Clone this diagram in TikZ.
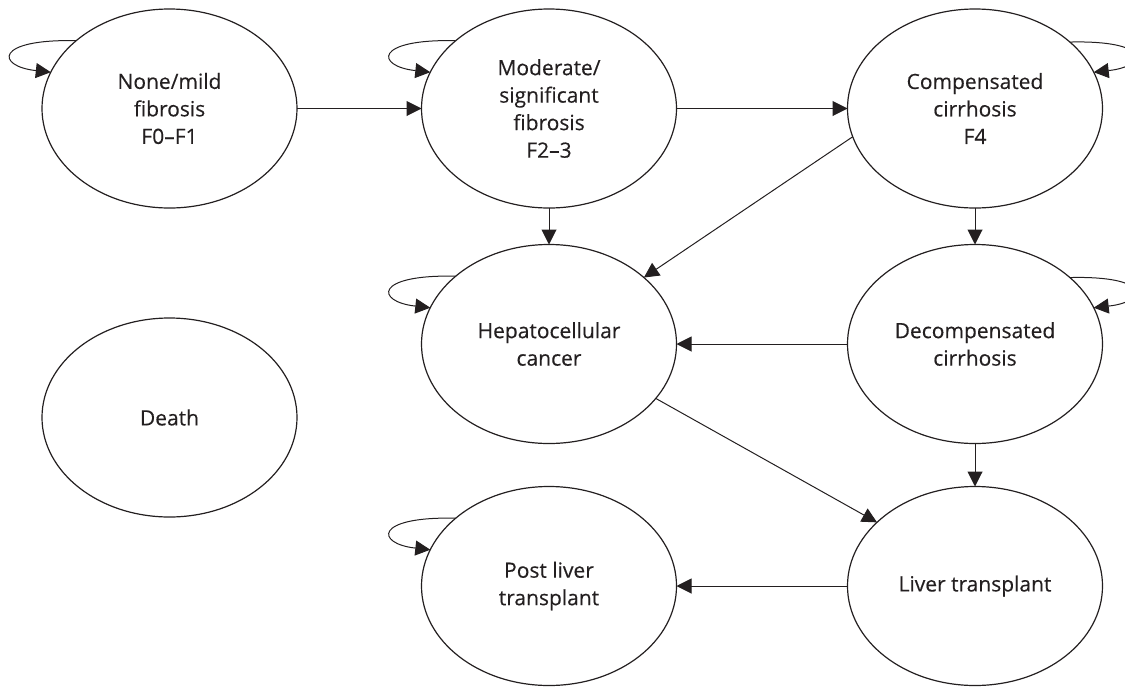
\documentclass[tikz,border=0pt]{standalone}
\usepackage{fontspec}
\setmainfont{Open Sans}
\newfontfamily\statefont{Open Sans}[FakeBold=0.3,Ligatures=TeX]
\usetikzlibrary{arrows.meta,shapes.geometric}
\definecolor{ink}{HTML}{231F20}
\begin{document}
\begin{tikzpicture}[x=1pt,y=-1pt,
  state/.style={draw=ink, line width=1.2pt, ellipse, minimum width=255pt, minimum height=199pt,
    inner sep=0pt, outer sep=0pt, align=center, text=ink,
    font=\statefont\fontsize{21}{27.5}\selectfont},
  conn/.style={draw=ink, line width=1pt, -{Triangle[length=15pt,width=15pt]}}]
\useasboundingbox (0,0) rectangle (1125,686);
\node[state] (none) at (169.5,108.5) {None/mild\\fibrosis\\F0–F1};
\node[state] (mod) at (549,108.5) {Moderate/\\significant\\fibrosis\\F2–3};
\node[state] (comp) at (975,108.5) {Compensated\\cirrhosis\\F4};
\node[state] (hcc) at (549,344) {Hepatocellular\\cancer};
\node[state] (dec) at (975,344) {Decompensated\\cirrhosis};
\node[state] (death) at (169.5,417.5) {Death};
\node[state] (post) at (549,586) {Post liver\\transplant};
\node[state] (lt) at (975,586) {Liver transplant};
% transitions
\draw[conn] (none.east) -- (mod.west);
\draw[conn] (mod.east) -- (comp.west);
\draw[conn] (mod.south) -- (hcc.north);
\draw[conn] (comp.south) -- (dec.north);
\draw[conn] (comp.193) -- (hcc.35.5);
\draw[conn] (dec.west) -- (hcc.east);
\draw[conn] (hcc.333.2) -- (lt.147.4);
\draw[conn] (dec.south) -- (lt.north);
\draw[conn] (lt.west) -- (post.east);
% self loops
\draw[conn] (none.144.9) .. controls +(-82,-2) and +(-55,-6) .. (none.163);
\draw[conn] (mod.144.9) .. controls +(-82,-2) and +(-55,-6) .. (mod.163);
\draw[conn] (hcc.144.9) .. controls +(-82,-2) and +(-55,-6) .. (hcc.163);
\draw[conn] (post.144.9) .. controls +(-82,-2) and +(-55,-6) .. (post.163);
\draw[conn] (comp.35.1) .. controls +(82,-2) and +(55,-6) .. (comp.17);
\draw[conn] (dec.35.1) .. controls +(82,-2) and +(55,-6) .. (dec.17);
\end{tikzpicture}
\end{document}
